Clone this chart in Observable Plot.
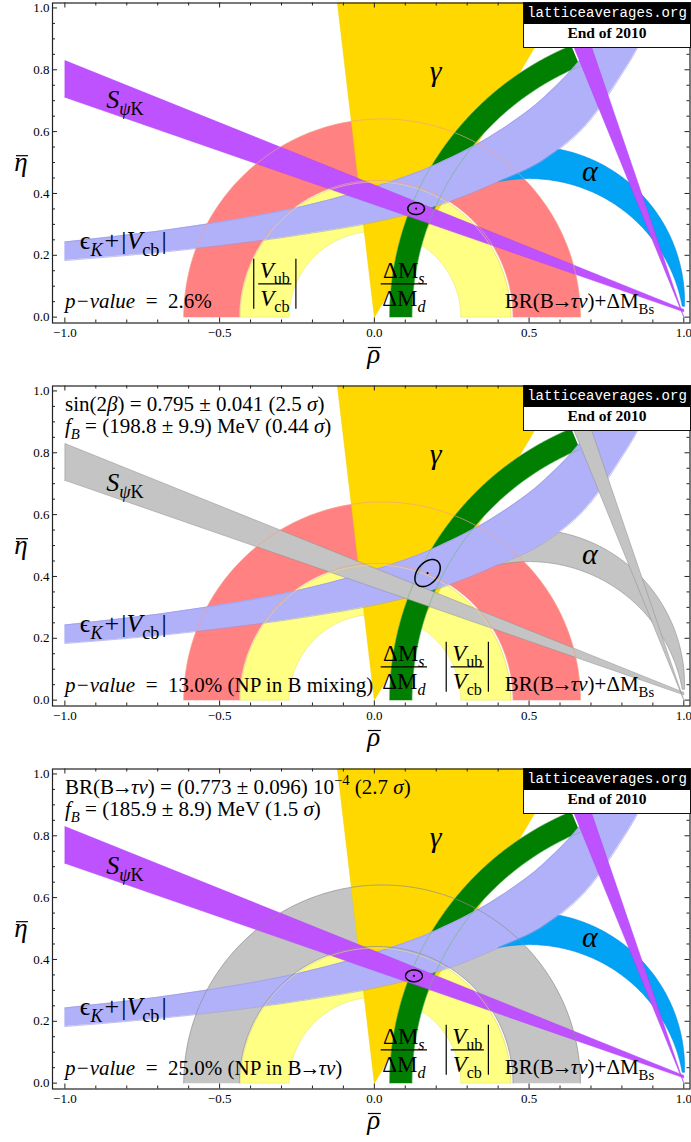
<!DOCTYPE html>
<html><head><meta charset="utf-8">
<script src="https://cdn.jsdelivr.net/npm/d3@7"></script>
<script src="https://cdn.jsdelivr.net/npm/@observablehq/plot@0.6"></script>
<style>
body{margin:0;background:#fff;}
.panel{position:relative;width:691px;}
.panel svg{display:block;}
.lbox{position:absolute;left:523px;width:166px;border:1px solid #111;background:#fff;}
.lbox .hd{background:#000;color:#fff;font:14px 'Liberation Mono','DejaVu Sans Mono',monospace;height:20px;line-height:20px;text-align:center;}
.lbox .bd{height:23px;line-height:23px;border-top:1px solid #000;font:bold 15.5px 'Liberation Serif','Times New Roman',serif;text-align:center;color:#000;}
</style></head>
<body><div id="root"></div>
<script>
// ---------------- data ----------------
const rhoMajor = [-1.0, -0.5, 0.0, 0.5, 1.0];
const rhoMinor = [-1.0,-0.9,-0.8,-0.7,-0.6,-0.5,-0.4,-0.3,-0.2,-0.1,0.0,0.1,0.2,0.3,0.4,0.5,0.6,0.7,0.8,0.9,1.0];
const etaMajor = [0.0, 0.2, 0.4, 0.6, 0.8, 1.0];
const etaMinor = [0.0,0.05,0.1,0.15,0.2,0.25,0.3,0.35,0.4,0.45,0.5,0.55,0.6,0.65,0.7,0.75,0.8,0.85,0.9,0.95,1.0];

// |Vub/Vcb| annulus around the origin: [inner, outer]
const vubCenters = [0.002, 0.004];
const vubRadii = [0.277, 0.437];
// BR(B->tau nu)+dMBs : Apollonius circles on the rho axis [inner, outer]
const brCenters = [0.006, 0.025];
const brRadii = [0.442, 0.641];
// dMs/dMd : circles around (1,0) [inner, outer], band ends at this angle (deg)
const dmRadii = [0.878, 0.951];
const dmEndAngle = 112.5;
// gamma wedge from the origin (deg)
const gammaAngles = [59.3, 96.7];
// S_psiK band: eta of [lower, upper] edge at rho = -1 and at rho = 1
const sPsiKLeft = [0.711, 0.830];
const sPsiKRight = [0.017, 0.025];
// second (steep) S_psiK solution: slopes of the lines through (1,0)
const sPsiKSteepTan = [2.46, 2.93];
// alpha : circles through (0,0),(1,0) with centre (0.5,c) [inner, outer]
const alphaC = [-0.055, 0.05];
const alphaRhoStart = 0.40, alphaEtaEnd = 0.035;
// epsilon_K + |Vcb| band edges
const ekRho  = [-1.0, -0.6, -0.2, 0.0, 0.2, 0.4, 0.55, 0.7, 0.79, 0.85, 0.92];
const ekLow  = [0.183, 0.219, 0.272, 0.307, 0.358, 0.437, 0.51, 0.64, 0.77, 0.87, 1.02];
const ekHigh = [0.243, 0.292, 0.366, 0.421, 0.494, 0.600, 0.712, 0.877, 1.018, 1.14, 1.325];
// fit result ellipse per panel: centre, semi-axes, tilt(deg)
const fitCenter = [[0.135, 0.351], [0.172, 0.411], [0.128, 0.347]];
const fitAxes = [[0.027, 0.019], [0.05, 0.033], [0.027, 0.019]];
const fitTilt = [0, 50, 0];
const pValues = ["2.6%", "13.0%", "25.0%"];

// ---------------- geometry helpers ----------------
const D = Math.PI / 180;
function arc(cx, cy, r, a0, a1, n = 180) {
  const p = [];
  for (let i = 0; i <= n; i++) { const a = (a0 + (a1 - a0) * i / n) * D; p.push({x: cx + r * Math.cos(a), y: cy + r * Math.sin(a)}); }
  return p;
}
const close = p => (p.push(p[0]), p);
const ring = (c, r) => close(arc(c[1], 0, r[1], 0, 180).concat(arc(c[0], 0, r[0], 180, 0)));
const brPoly = ring(brCenters, brRadii);
const vubPoly = ring(vubCenters, vubRadii);
const dmPoly = close(arc(1, 0, dmRadii[1], 180, dmEndAngle).concat(arc(1, 0, dmRadii[0], dmEndAngle, 180)));
const gammaPoly = close([{x: 0, y: 0}, {x: 3 * Math.cos(gammaAngles[0] * D), y: 3 * Math.sin(gammaAngles[0] * D)}, {x: 3 * Math.cos(gammaAngles[1] * D), y: 3 * Math.sin(gammaAngles[1] * D)}]);
const sPoly = close([{x: -1, y: sPsiKLeft[0]}, {x: -1, y: sPsiKLeft[1]}, {x: 1, y: sPsiKRight[1]}, {x: 1, y: sPsiKRight[0]}]);
const sSteepPoly = close([{x: 1, y: 0}, {x: 1 - 1.3 / sPsiKSteepTan[0], y: 1.3}, {x: 1 - 1.3 / sPsiKSteepTan[1], y: 1.3}]);
function alphaPolygon() {
  const [ci, co] = alphaC;
  const ri = Math.hypot(0.5, ci), ro = Math.hypot(0.5, co);
  const oS = Math.acos((alphaRhoStart - 0.5) / ro) / D, oE = Math.asin((alphaEtaEnd - co) / ro) / D;
  const iS = Math.acos((alphaRhoStart - 0.5) / ri) / D, iE = Math.asin((alphaEtaEnd - ci) / ri) / D;
  return close(arc(0.5, co, ro, oS, oE).concat(arc(0.5, ci, ri, iE, iS)));
}
const alphaPoly = alphaPolygon();
const ekData = ekRho.map((r, i) => ({r, lo: ekLow[i], hi: ekHigh[i]}));
function ellipse(i) {
  const [cx, cy] = fitCenter[i], [a, b] = fitAxes[i], t = fitTilt[i] * D, p = [];
  for (let k = 0; k <= 120; k++) { const s = k / 120 * 2 * Math.PI; p.push({x: cx + a * Math.cos(t) * Math.cos(s) - b * Math.sin(t) * Math.sin(s), y: cy + a * Math.sin(t) * Math.cos(s) + b * Math.cos(t) * Math.sin(s)}); }
  return p;
}

// ---------------- styling ----------------
const SERIF = "'Liberation Serif','Times New Roman',Times,serif";
const PURPLE = "#BE52FF", BLUE = "#02A2F4", GREY = "#C4C4C4", GREYLINE = "#8E8E8E";
const RED = "#FF8181", YELLOW = "#FFFF83", GOLD = "#FFD800", GREEN = "#007F00", LAV = "#B1B1FA";
const panels = [
  {h: 383, s: PURPLE, sl: "#B040F2", a: BLUE, al: "#0A8FE0", br: RED, brl: "#F3A08A"},
  {h: 383, s: GREY, sl: GREYLINE, a: GREY, al: GREYLINE, br: RED, brl: "#F3A08A"},
  {h: 376, s: PURPLE, sl: "#B040F2", a: BLUE, al: "#0A8FE0", br: GREY, brl: GREYLINE}
];
const xd = [-1.04, 1.02], yd = [-0.019, 1.016];
const MT = 2.5, FB = 322.5, ML = 52, MR = 1.5;
const kx = (691 - ML - MR) / (xd[1] - xd[0]), ky = (FB - MT) / (yd[1] - yd[0]);
const fmt = d3.format(".1f");
const isMajX = d => Math.abs(d * 2 - Math.round(d * 2)) < 1e-9;
const isMajY = d => Math.abs(d * 5 - Math.round(d * 5)) < 1e-9;

function makePlot(i) {
  const P = panels[i];
  const tl = (maj, d) => (maj(d) ? 5 : 3);
  const marks = [
    Plot.line(brPoly, {x: "x", y: "y", fill: P.br, stroke: "none", clip: true}),
    Plot.line(vubPoly, {x: "x", y: "y", fill: YELLOW, stroke: "#E4E070", strokeWidth: 0.5, clip: true}),
    Plot.line(gammaPoly, {x: "x", y: "y", fill: GOLD, stroke: "#F0D000", strokeWidth: 0.5, clip: true}),
    Plot.line(dmPoly, {x: "x", y: "y", fill: GREEN, stroke: "none", clip: true}),
    Plot.line(alphaPoly, {x: "x", y: "y", fill: P.a, stroke: P.al, strokeWidth: 0.6, clip: true}),
    Plot.areaY(ekData, {x: "r", y1: "lo", y2: "hi", curve: "monotone-x", fill: LAV, clip: true}),
    Plot.line(ekData, {x: "r", y: "lo", curve: "monotone-x", stroke: "#9A9AE0", strokeWidth: 0.6, clip: true}),
    Plot.line(ekData, {x: "r", y: "hi", curve: "monotone-x", stroke: "#9A9AE0", strokeWidth: 0.6, clip: true}),
    Plot.line(sPoly, {x: "x", y: "y", fill: P.s, stroke: P.sl, strokeWidth: 0.5, clip: true}),
    Plot.line(sSteepPoly, {x: "x", y: "y", fill: P.s, stroke: P.sl, strokeWidth: 0.5, clip: true}),
    // thin contour lines drawn on top
    Plot.line(arc(brCenters[1], 0, brRadii[1], 0, 180), {x: "x", y: "y", stroke: P.brl, strokeWidth: 0.7, clip: true}),
    Plot.line(arc(brCenters[0], 0, brRadii[0], 0, 180), {x: "x", y: "y", stroke: P.brl, strokeWidth: 0.7, clip: true}),
    Plot.line(arc(vubCenters[1], 0, vubRadii[1], 0, 180), {x: "x", y: "y", stroke: "#E8E27A", strokeWidth: 0.6, clip: true}),
    Plot.line(arc(1, 0, dmRadii[0], dmEndAngle, 180), {x: "x", y: "y", stroke: "#6CB86C", strokeWidth: 0.6, clip: true}),
    Plot.line(arc(1, 0, dmRadii[1], dmEndAngle, 180), {x: "x", y: "y", stroke: "#6CB86C", strokeWidth: 0.6, clip: true}),
    // fit ellipse
    Plot.line(ellipse(i), {x: "x", y: "y", stroke: "#000", strokeWidth: 1.5}),
    Plot.dot([fitCenter[i]], {x: d => d[0], y: d => d[1], r: 1.1, fill: "#000", stroke: "none"}),
    // frame ticks (inward)
    Plot.ruleX(rhoMinor, {x: d => d, y1: yd[0], y2: d => yd[0] + tl(isMajX, d) / ky, stroke: "#222", strokeWidth: 1}),
    Plot.ruleX(rhoMinor, {x: d => d, y1: d => yd[1] - tl(isMajX, d) / ky, y2: yd[1], stroke: "#222", strokeWidth: 1}),
    Plot.ruleY(etaMinor, {y: d => d, x1: xd[0], x2: d => xd[0] + tl(isMajY, d) / kx, stroke: "#222", strokeWidth: 1}),
    Plot.ruleY(etaMinor, {y: d => d, x1: d => xd[1] - tl(isMajY, d) / kx, x2: xd[1], stroke: "#222", strokeWidth: 1}),
    Plot.text(rhoMajor, {x: d => d, frameAnchor: "bottom", dy: 5, lineAnchor: "top", text: d => fmt(d), fontSize: 13, fontFamily: SERIF, fill: "#000"}),
    Plot.text(etaMajor, {y: d => d, frameAnchor: "left", dx: -3, textAnchor: "end", text: d => fmt(d), fontSize: 13, fontFamily: SERIF, fill: "#000"}),
    Plot.frame({stroke: "#222", strokeWidth: 1.2})
  ];
  return Plot.plot({
    width: 691, height: P.h, marginTop: MT, marginBottom: P.h - FB, marginLeft: ML, marginRight: MR,
    x: {domain: xd, axis: null}, y: {domain: yd, axis: null},
    style: {background: "transparent", overflow: "visible"},
    marks
  });
}

// ---------------- rich text ----------------
function rich(g, x, y, segs, size, anchor = "start") {
  const t = g.append("text").attr("x", x).attr("y", y).attr("font-size", size).attr("text-anchor", anchor).style("white-space", "pre");
  let shift = 0;
  for (const [s, f, dx] of segs) {
    const sub = f.includes("sub"), sup = f.includes("sup");
    const target = sub ? 0.27 * size : sup ? -0.42 * size : 0;
    const ts = t.append("tspan").attr("dy", target - shift).text(s);
    if (dx) ts.attr("dx", dx);
    if (sub || sup) ts.attr("font-size", size * 0.7);
    if (f.includes("i")) ts.attr("font-style", "italic");
    shift = target;
  }
  return t;
}
function frac(g, cx, ly, num, den, size, bars) {
  const a = rich(g, cx, ly - 6, num, size, "middle");
  const b = rich(g, cx, ly + 22, den, size, "middle");
  const w = Math.max(a.node().getComputedTextLength(), b.node().getComputedTextLength());
  g.append("line").attr("x1", cx - w / 2 - 1.5).attr("x2", cx + w / 2 + 1.5).attr("y1", ly).attr("y2", ly).attr("stroke", "#000").attr("stroke-width", 1.1);
  if (bars) for (const s of [-1, 1]) g.append("line").attr("x1", cx + s * (w / 2 + 6)).attr("x2", cx + s * (w / 2 + 6)).attr("y1", ly - 25).attr("y2", ly + 25).attr("stroke", "#000").attr("stroke-width", 1.2);
}

const ARROW = [["→", "", -2], ["τν", "i", -2]];
const topLines = [
  null,
  [[["sin(2", ""], ["β", "i"], [") = 0.795 ± 0.041 (2.5 ", ""], ["σ", "i"], [")", ""]],
   [["f", "i"], ["B", "i sub"], [" = (198.8 ± 9.9) MeV (0.44 ", ""], ["σ", "i"], [")", ""]]],
  [[["BR(B", ""], ...ARROW, [") = (0.773 ± 0.096) 10", ""], ["−4", "sup"], [" (2.7 ", ""], ["σ", "i"], [")", ""]],
   [["f", "i"], ["B", "i sub"], [" = (185.9 ± 8.9) MeV (1.5 ", ""], ["σ", "i"], [")", ""]]]
];
const pTails = [[], [[" (NP in B mixing)", ""]], [[" (NP in B", ""], ...ARROW, [")", ""]]];
const vubLabelRho = [-0.32, 0.302, 0.302];

function labels(chart, i) {
  const X = chart.scale("x").apply, Y = chart.scale("y").apply;
  const g = d3.select(chart).append("g").attr("font-family", SERIF).attr("fill", "#000");
  rich(g, X(-0.865), Y(0.676), [["S", "i"], ["ψ", "i sub"], ["K", "sub"]], 26);
  rich(g, X(-0.95), Y(0.218), [["ϵ", ""], ["K", "i sub"], ["+", "", 2], ["|", "", 2], ["V", "i"], ["cb", "sub"], ["|", "", 2]], 26);
  rich(g, X(0.2), Y(0.763), [["γ", "i"]], 30, "middle");
  rich(g, X(0.698), Y(0.44), [["α", "i"]], 30, "middle");
  rich(g, X(0.423), Y(0.028), [["BR(B", ""], ...ARROW, [")+ΔM", ""], ["Bs", "sub"]], 21);
  frac(g, X(0.097), Y(0.106), [["ΔM", ""], ["s", "i sub"]], [["ΔM", ""], ["d", "i sub"]], 23, false);
  frac(g, X(vubLabelRho[i]), Y(0.106), [["V", "i"], ["ub", "sub"]], [["V", "i"], ["cb", "sub"]], 23, true);
  rich(g, X(-0.998), Y(i === 0 ? 0.028 : 0.024), [["p−value", "i"], ["  =  " + pValues[i], ""]].concat(pTails[i]), 21);
  if (topLines[i]) {
    rich(g, X(-0.998), Y(0.933), topLines[i][0], 21);
    rich(g, X(-0.998), Y(0.862), topLines[i][1], 21);
  }
  // axis labels
  const yb = Y(0.472), xb = Y(yd[0]) + 40, x0 = X(0);
  rich(g, 21, yb, [["η", "i"]], 27, "middle");
  g.append("line").attr("x1", 16).attr("x2", 28).attr("y1", yb - 15).attr("y2", yb - 15).attr("stroke", "#000").attr("stroke-width", 1.2);
  rich(g, x0, xb, [["ρ", "i"]], 27, "middle");
  g.append("line").attr("x1", x0 - 6).attr("x2", x0 + 7).attr("y1", xb - 15).attr("y2", xb - 15).attr("stroke", "#000").attr("stroke-width", 1.2);
}

const root = document.getElementById("root");
for (let i = 0; i < 3; i++) {
  const div = document.createElement("div");
  div.className = "panel";
  div.style.height = panels[i].h + "px";
  root.appendChild(div);
  const chart = makePlot(i);
  div.appendChild(chart);
  labels(chart, i);
  const box = document.createElement("div");
  box.className = "lbox";
  box.style.top = "2px";
  box.innerHTML = '<div class="hd">latticeaverages.org</div><div class="bd">End of 2010</div>';
  div.appendChild(box);
}
</script></body></html>
